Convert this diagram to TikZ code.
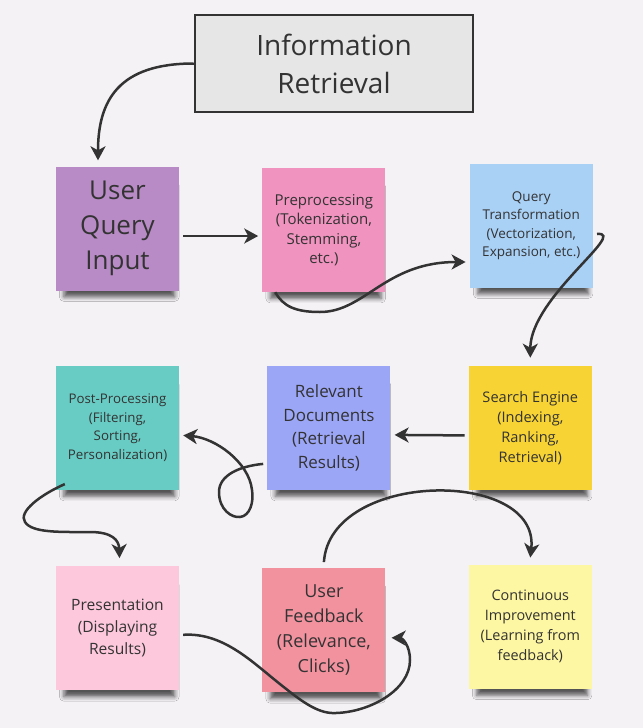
\documentclass[tikz,border=0pt]{standalone}
\usepackage{fontspec}
\setmainfont{Open Sans}
\usepackage{xcolor}
\usetikzlibrary{positioning,arrows.meta,shadows.blur}

\definecolor{paper}{HTML}{F5F2F5}
\definecolor{ink}{HTML}{333333}
\definecolor{titlegray}{HTML}{E6E6E6}
\definecolor{querypurple}{HTML}{B98BC6}
\definecolor{preppink}{HTML}{F093BF}
\definecolor{transblue}{HTML}{A9D0F5}
\definecolor{postteal}{HTML}{68CCC4}
\definecolor{docsblue}{HTML}{9CA6F7}
\definecolor{engineyellow}{HTML}{F7D334}
\definecolor{showpink}{HTML}{FDC8DC}
\definecolor{feedrose}{HTML}{F2929F}
\definecolor{improveyellow}{HTML}{FDF6A2}

\newcommand{\notesize}[2]{\fontsize{#1}{#2}\selectfont}

\tikzset{
  note/.style={rectangle, minimum width=123pt, minimum height=124pt, inner sep=0pt,
    align=center, text=ink,
    blur shadow={shadow xshift=2pt, shadow yshift=-14pt, shadow scale=0.9,
      shadow blur radius=5pt, shadow opacity=65}},
  flow/.style={-{Stealth[length=14pt, width=15pt, inset=4pt]}, line width=2.5pt,
    draw=ink},
}

\begin{document}
\begin{tikzpicture}[x=1pt, y=-1pt, node distance=80pt]
    \fill [paper] (0,0) rectangle (643,728);
    \useasboundingbox (0,0) rectangle (643,728);

    \node [rectangle, draw=ink, line width=2.5pt, fill=titlegray, minimum width=278pt, minimum height=97pt, align=center, text=ink, font={\notesize{28}{38}}] (title) at (334,63.5) {Information\\Retrieval};

    % first row
    \node [note, fill=querypurple, font={\notesize{26}{35}}] (uqi) at (117.5,228.5) {User\\Query\\Input};
    \node [note, fill=preppink, font={\notesize{15}{19.5}}, right=83pt of uqi, yshift=-1.5pt] (prep) {Preprocessing\\(Tokenization,\\Stemming,\\etc.)};
    \node [note, fill=transblue, font={\notesize{13.5}{18.5}}, right=84pt of prep, yshift=4.5pt] (qt) {Query\\Transformation\\(Vectorization,\\Expansion, etc.)};

    % second row
    \node [note, fill=postteal, font={\notesize{13.3}{18.5}}, below=75pt of uqi] (post) {Post-Processing\\(Filtering,\\Sorting,\\Personalization)};
    \node [note, fill=docsblue, font={\notesize{17}{23.5}}, right=88pt of post] (docs) {Relevant\\Documents\\(Retrieval\\Results)};
    \node [note, fill=engineyellow, font={\notesize{14.6}{20}}, right=78pt of docs] (se) {Search Engine\\(Indexing,\\Ranking,\\Retrieval)};

    % third row
    \node [note, fill=showpink, font={\notesize{15.6}{22}}, below=76pt of post] (pres) {Presentation\\(Displaying\\Results)};
    \node [note, fill=feedrose, font={\notesize{18}{25}}, right=83pt of pres, yshift=-2pt] (feedback) {User\\Feedback\\(Relevance,\\Clicks)};
    \node [note, fill=improveyellow, font={\notesize{14.4}{20}}, right=83pt of feedback, yshift=3.5pt] (ci) {Continuous\\Improvement\\(Learning from\\feedback)};

    % connectors
    \draw [flow] (title.west) .. controls +(-75,0) and +(0,-60) .. ([xshift=-19.5pt, yshift=6pt]uqi.north);
    \draw [flow] ([xshift=4pt, yshift=-7.5pt]uqi.east) -- ([xshift=-4pt, yshift=-6pt]prep.west);
    \draw [flow] ([xshift=13pt]prep.south west) .. controls +(8,14) and (295,312) .. (320,312)
        .. controls (365,312) and (385,262) .. ([xshift=-4pt, yshift=-36.5pt]qt.west);
    \draw [flow] ([xshift=4pt, yshift=-8.5pt]qt.east) .. controls +(32,-3) and +(0,-60) .. ([yshift=8pt]se.north);
    \draw [flow] ([xshift=-4pt, yshift=-7.5pt]se.west) -- ([xshift=4pt, yshift=-7pt]docs.east);
    \draw [flow] ([xshift=-4pt, yshift=-36pt]docs.west) .. controls (240,466) and (219,475) .. (219,492)
        .. controls (219,510) and (232,518) .. (240,517)
        .. controls (250,516) and (254,502) .. (252,490)
        .. controls (249,462) and (215,438) .. ([xshift=4pt, yshift=-7.5pt]post.east);
    \draw [flow] ([xshift=9pt, yshift=6pt]post.south west) .. controls (40,495) and (18,512) .. (25,522)
        .. controls (32,533) and (60,532) .. (90,532)
        .. controls (112,532) and (119,540) .. ([xshift=2pt, yshift=8pt]pres.north);
    \draw [flow] ([yshift=6pt]feedback.north) .. controls (330,470) and (540,468) .. ([yshift=7pt]ci.north);
    \draw [flow] ([xshift=4pt, yshift=-6.5pt]pres.east) .. controls (225,632) and (255,665) .. (285,688)
        .. controls (305,704) and (320,714) .. (336,713)
        .. controls (370,712) and (410,690) .. (410,660)
        .. controls (410,645) and (402,638) .. ([xshift=6pt, yshift=-7.5pt]feedback.east);
\end{tikzpicture}
\end{document}
